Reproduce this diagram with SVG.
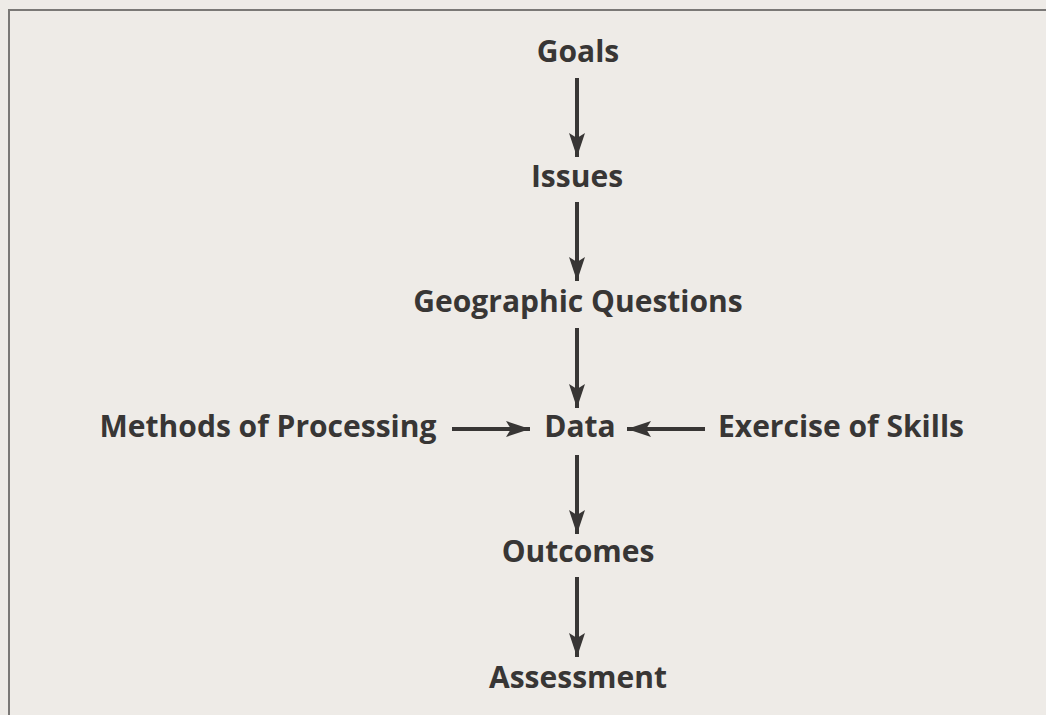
<svg xmlns="http://www.w3.org/2000/svg" width="1046" height="715" viewBox="0 0 1046 715">
  <defs>
    <marker id="head" markerWidth="24" markerHeight="16" refX="24" refY="8" orient="auto" markerUnits="userSpaceOnUse" viewBox="0 0 24 16">
      <path d="M0,0 L24,8 L0,16 L5,8 Z" fill="#383635"/>
    </marker>
    <style>
      .lbl { font-family: "Open Sans", "Liberation Sans", sans-serif; font-weight: 700; font-size: 30px; fill: #383635; text-anchor: middle; }
      .edge { stroke: #383635; stroke-width: 4; fill: none; marker-end: url(#head); }
    </style>
  </defs>
  <rect x="0" y="0" width="1046" height="715" fill="#eeebe7"/>
  <!-- frame: top and left rules -->
  <path d="M9,715 V10 H1046" fill="none" stroke="#7a7876" stroke-width="2"/>

  <g id="connectors">
    <line class="edge" x1="577" y1="78" x2="577" y2="157"/>
    <line class="edge" x1="577" y1="202" x2="577" y2="281"/>
    <line class="edge" x1="577" y1="328" x2="577" y2="408"/>
    <line class="edge" x1="577" y1="455" x2="577" y2="534"/>
    <line class="edge" x1="577" y1="577" x2="577" y2="657"/>
    <line class="edge" x1="452" y1="429" x2="530" y2="429"/>
    <line class="edge" x1="705" y1="429" x2="627" y2="429"/>
  </g>

  <g id="goals"><text class="lbl" x="578" y="62">Goals</text></g>
  <g id="issues"><text class="lbl" x="577" y="187">Issues</text></g>
  <g id="questions"><text class="lbl" x="578" y="312">Geographic Questions</text></g>
  <g id="data"><text class="lbl" x="580" y="437">Data</text></g>
  <g id="methods"><text class="lbl" x="268" y="437">Methods of Processing</text></g>
  <g id="skills"><text class="lbl" x="841" y="437">Exercise of Skills</text></g>
  <g id="outcomes"><text class="lbl" x="578" y="562">Outcomes</text></g>
  <g id="assessment"><text class="lbl" x="578" y="688">Assessment</text></g>
</svg>
